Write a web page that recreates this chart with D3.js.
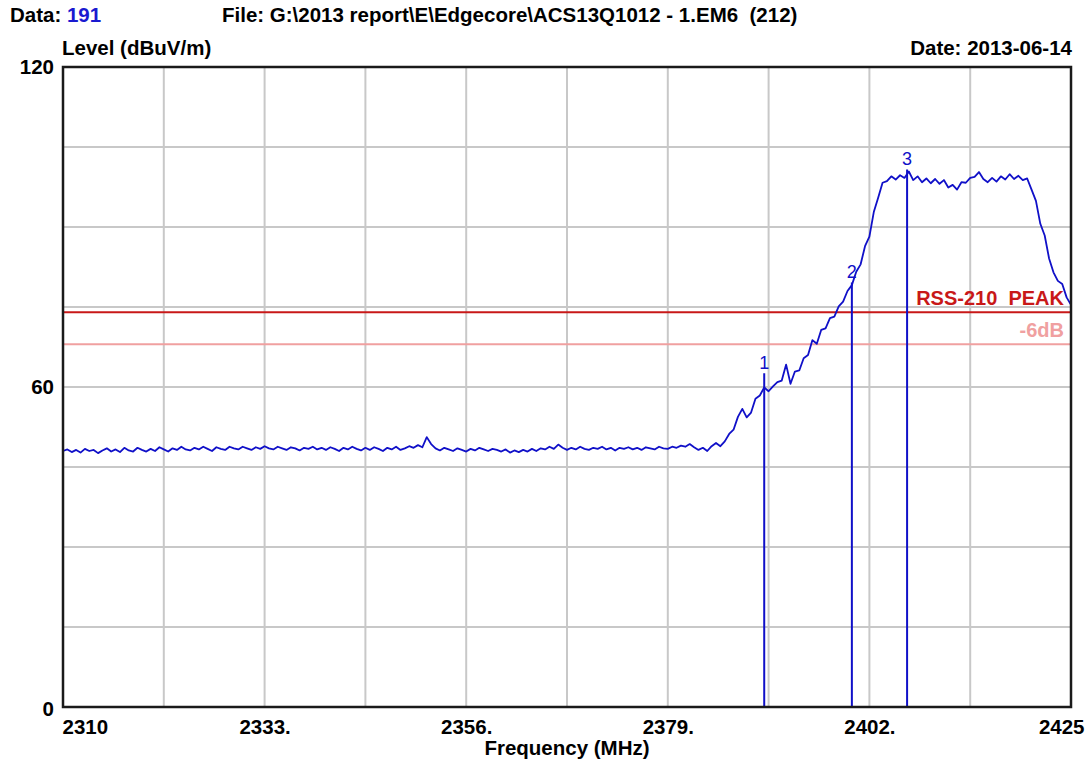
<!DOCTYPE html>
<html>
<head>
<meta charset="utf-8">
<script src="https://cdn.jsdelivr.net/npm/d3@7"></script>
<style>
  html, body { margin: 0; padding: 0; background: #fff; }
  svg { display: block; font-family: "Liberation Sans", Arial, sans-serif; }
</style>
</head>
<body>
<svg id="chart" width="1089" height="762"></svg>
<script>
// Sweep settings: first frequency and step of the level samples (MHz)
const sweepStart = 2310;
const sweepStep = 0.5;

// Measured level (dBuV/m), one sample every 0.5 MHz from 2310 to 2425 MHz
const levels = [
  // 2310 - 2319.5
  48.0,48.3,47.8,48.2,47.7,48.4,48.0,48.2,47.6,48.1,48.5,47.9,48.3,47.8,48.6,48.1,47.9,48.6,48.2,47.9,
  // 2320 - 2329.5
  48.4,48.0,48.7,48.3,47.9,48.5,48.2,48.8,48.3,48.1,48.6,48.3,48.8,48.4,48.0,48.7,48.4,48.2,48.8,48.5,
  // 2330 - 2339.5
  48.3,48.8,48.5,48.2,48.7,48.4,48.9,48.5,48.3,48.8,48.5,48.2,48.7,48.5,48.1,48.6,48.4,48.8,48.3,48.6,
  // 2340 - 2349.5
  48.2,48.7,48.4,48.0,48.6,48.3,48.8,48.4,48.1,48.6,48.2,48.7,48.4,48.0,48.6,48.3,48.8,48.2,48.5,48.9,
  // 2350 - 2359.5
  48.6,49.1,48.7,50.6,49.3,48.5,48.1,48.6,48.3,48.0,48.5,48.2,47.9,48.4,48.1,48.6,48.3,48.0,48.4,48.2,
  // 2360 - 2369.5
  47.9,48.3,47.7,48.1,47.8,48.2,47.9,48.4,48.0,48.5,48.3,48.8,48.4,49.2,48.6,48.2,48.6,48.3,48.8,48.4,
  // 2370 - 2379.5
  48.2,48.6,48.4,48.8,48.3,48.6,48.1,48.6,48.4,48.7,48.3,48.6,48.2,48.7,48.5,48.3,48.8,48.5,48.4,48.8,
  // 2380 - 2389.5
  48.6,49.0,48.8,49.3,48.7,48.2,48.6,48.0,48.9,49.5,48.9,49.8,51.2,52.0,54.4,55.9,54.3,55.2,57.8,58.4,
  // 2390 - 2399.5
  59.9,59.2,60.1,60.9,61.2,64.2,60.6,62.9,63.1,65.4,66.0,68.8,68.1,70.7,71.0,72.9,73.2,75.1,76.0,78.0,
  // 2400 - 2409.5
  79.1,81.6,83.0,86.4,88.2,92.8,95.5,98.3,98.6,99.5,98.9,99.7,99.2,100.4,98.8,99.5,98.4,99.1,98.2,99.0,
  // 2410 - 2419.5
  98.1,98.8,97.4,97.9,97.0,98.4,98.3,99.2,99.4,100.3,99.0,98.4,99.2,98.5,99.5,98.9,99.9,99.0,99.6,98.8,
  // 2420 - 2425
  99.1,97.0,94.9,90.6,88.4,84.1,81.5,79.9,79.3,76.8,75.4
];

// Frequency axis
const freqDomain = [2310, 2425];
const freqGrid = [2310, 2321.5, 2333, 2344.5, 2356, 2367.5, 2379, 2390.5, 2402, 2413.5, 2425];
const freqTicks = [2310, 2333, 2356, 2379, 2402, 2425];
const freqTickLabels = ["2310", "2333.", "2356.", "2379.", "2402.", "2425"];

// Level axis
const levelDomain = [0, 120];
const levelGrid = [0, 15, 30, 45, 60, 75, 90, 105, 120];
const levelTicks = [0, 60, 120];

// Limit lines
const limitNames = ["RSS-210  PEAK", "-6dB"];
const limitValues = [74, 68];

// Markers
const markerIds = ["1", "2", "3"];
const markerFreqs = [2390.0, 2400.0, 2406.3];
const markerLevels = [62.6, 79.6, 100.8];

const svg = d3.select("#chart");
const plot = { left: 63, right: 1071, top: 67, bottom: 707 };

const x = d3.scaleLinear().domain(freqDomain).range([plot.left, plot.right]);
const y = d3.scaleLinear().domain(levelDomain).range([plot.bottom, plot.top]);

const traceColor = "#1010c8";
const font = "bold 20.5px 'Liberation Sans', Arial, sans-serif";

// Grid
const grid = svg.append("g");
grid.selectAll("line.v").data(freqGrid.slice(1, -1)).join("line")
  .attr("x1", d => x(d)).attr("x2", d => x(d))
  .attr("y1", plot.top).attr("y2", plot.bottom)
  .attr("stroke", "#c8c8c8").attr("stroke-width", 2);
grid.selectAll("line.h").data(levelGrid.slice(1, -1)).join("line")
  .attr("y1", d => y(d)).attr("y2", d => y(d))
  .attr("x1", plot.left).attr("x2", plot.right)
  .attr("stroke", "#c8c8c8").attr("stroke-width", 2);

// Limit lines
const limitColors = ["#c81818", "#f0a0a0"];
svg.append("g").selectAll("line").data(limitValues).join("line")
  .attr("x1", plot.left).attr("x2", plot.right)
  .attr("y1", d => y(d)).attr("y2", d => y(d))
  .attr("stroke", (d, i) => limitColors[i]).attr("stroke-width", 2);

// Level trace
const trace = levels.map((v, i) => [sweepStart + i * sweepStep, v]);
svg.append("path")
  .datum(trace)
  .attr("fill", "none")
  .attr("stroke", traceColor)
  .attr("stroke-width", 1.8)
  .attr("stroke-linejoin", "round")
  .attr("d", d3.line().x(d => x(d[0])).y(d => y(d[1])));

// Limit labels
svg.append("g").selectAll("text").data(limitValues).join("text")
  .attr("x", plot.right - 7)
  .attr("y", d => y(d) - 7)
  .attr("text-anchor", "end")
  .attr("fill", (d, i) => limitColors[i])
  .attr("xml:space", "preserve")
  .style("font", "bold 20px 'Liberation Sans', Arial, sans-serif")
  .text((d, i) => limitNames[i]);

// Markers
const markers = svg.append("g");
markers.selectAll("line").data(markerFreqs).join("line")
  .attr("x1", d => x(d)).attr("x2", d => x(d))
  .attr("y1", y(0)).attr("y2", (d, i) => y(markerLevels[i]))
  .attr("stroke", traceColor).attr("stroke-width", 2);
markers.selectAll("text").data(markerFreqs).join("text")
  .attr("x", d => x(d))
  .attr("y", (d, i) => y(markerLevels[i]) - 4)
  .attr("text-anchor", "middle")
  .attr("fill", traceColor)
  .style("font", "18px 'Liberation Sans', Arial, sans-serif")
  .text((d, i) => markerIds[i]);

// Frame
svg.append("rect")
  .attr("x", plot.left).attr("y", plot.top)
  .attr("width", plot.right - plot.left).attr("height", plot.bottom - plot.top)
  .attr("fill", "none").attr("stroke", "#1a1a1a").attr("stroke-width", 2.5);

// Y tick labels
svg.append("g").selectAll("text").data(levelTicks).join("text")
  .attr("x", 54)
  .attr("y", d => y(d) + (d === 0 ? 9 : 7))
  .attr("text-anchor", "end")
  .style("font", font)
  .text(d => String(d));

// X tick labels
const xAxis = d3.axisBottom(x).tickValues(freqTicks).tickSize(0)
  .tickFormat((d, i) => freqTickLabels[i]);
const xg = svg.append("g").attr("transform", `translate(0,${plot.bottom})`).call(xAxis);
xg.select(".domain").remove();
xg.selectAll("text")
  .attr("dy", null).attr("y", 27)
  .attr("fill", "#000")
  .style("font", font)
  .attr("text-anchor", (d, i) => i === 0 ? "start" : (i === freqTicks.length - 1 ? "end" : "middle"))
  .attr("x", (d, i) => i === 0 ? -1 : (i === freqTicks.length - 1 ? 13 : 0));

// Axis titles and header
svg.append("text").attr("x", 567).attr("y", 755).attr("text-anchor", "middle")
  .style("font", font).text("Frequency (MHz)");
svg.append("text").attr("x", 62).attr("y", 55)
  .style("font", font).text("Level (dBuV/m)");
svg.append("text").attr("x", 1072).attr("y", 55).attr("text-anchor", "end")
  .style("font", font).text("Date: 2013-06-14");

const dataLabel = svg.append("text").attr("x", 10).attr("y", 22).style("font", font);
dataLabel.append("tspan").text("Data: ");
dataLabel.append("tspan").attr("fill", "#1a1ad0").text("191");

svg.append("text").attr("x", 222).attr("y", 22).style("font", font)
  .attr("xml:space", "preserve")
  .text("File: G:\\2013 report\\E\\Edgecore\\ACS13Q1012 - 1.EM6  (212)");
</script>
</body>
</html>
